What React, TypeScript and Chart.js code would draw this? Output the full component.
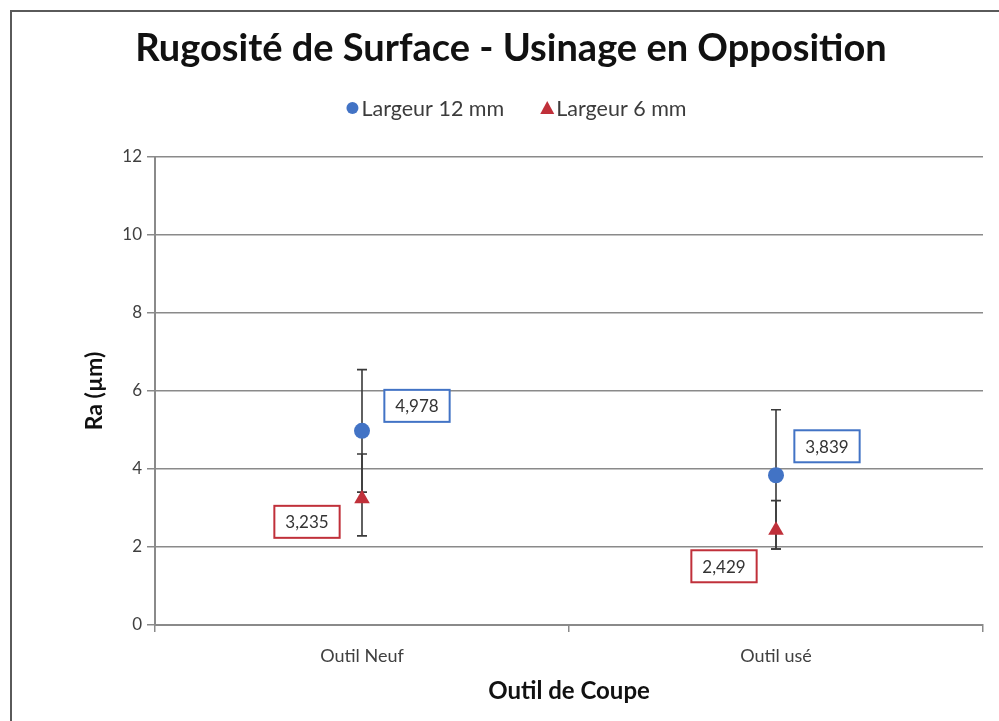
import React, { useEffect, useRef } from "react";
import { Chart, registerables } from "chart.js";

Chart.register(...registerables);

const TITLE = "Rugosité de Surface - Usinage en Opposition";
const CATEGORIES = ["Outil Neuf", "Outil usé"];
const SERIES_NAMES = ["Largeur 12 mm", "Largeur 6 mm"];
const RA_12MM = [4.978, 3.839];
const RA_6MM = [3.235, 2.429];
const ERR_12MM_PLUS = [1.57, 1.68];
const ERR_12MM_MINUS = [1.57, 1.89];
const ERR_6MM_PLUS = [1.15, 0.76];
const ERR_6MM_MINUS = [0.95, 0.48];
const Y_MIN = 0;
const Y_MAX = 12;
const Y_STEP = 2;
const Y_TITLE = "Ra (µm)";
const X_TITLE = "Outil de Coupe";

const BLUE = "#4273c5";
const RED = "#c0303a";
const FONT = "Lato, 'Open Sans', sans-serif";

// label box offsets (style), per dataset per point
const LABEL_OFFSETS = [
  [
    [55, -25],
    [51, -29],
  ],
  [
    [-55, 23],
    [-52, 36],
  ],
];

const errorBarPlugin = {
  id: "errorBars",
  beforeDatasetsDraw(chart: any) {
    const ctx = chart.ctx;
    const y = chart.scales.y;
    chart.data.datasets.forEach((ds: any, di: number) => {
      const meta = chart.getDatasetMeta(di);
      meta.data.forEach((el: any, i: number) => {
        const v = ds.data[i];
        const top = y.getPixelForValue(v + ds.errPlus[i]);
        const bot = y.getPixelForValue(v - ds.errMinus[i]);
        ctx.save();
        ctx.strokeStyle = "#3a3a3a";
        ctx.lineWidth = 1.6;
        ctx.beginPath();
        ctx.moveTo(el.x, top);
        ctx.lineTo(el.x, bot);
        ctx.moveTo(el.x - 5, top);
        ctx.lineTo(el.x + 5, top);
        ctx.moveTo(el.x - 5, bot);
        ctx.lineTo(el.x + 5, bot);
        ctx.stroke();
        ctx.restore();
      });
    });
  },
};

const decorPlugin = {
  id: "decor",
  beforeDraw(chart: any) {
    const ctx = chart.ctx;
    ctx.save();
    ctx.fillStyle = "#ffffff";
    ctx.fillRect(0, 0, chart.width, chart.height);
    ctx.strokeStyle = "#5a5a5a";
    ctx.lineWidth = 2;
    ctx.strokeRect(11, 11, chart.width + 20, chart.height + 20);
    ctx.restore();
  },
  afterDraw(chart: any) {
    const ctx = chart.ctx;
    ctx.save();
    // title
    ctx.fillStyle = "#111111";
    ctx.font = `bold 38px ${FONT}`;
    ctx.textAlign = "center";
    ctx.textBaseline = "middle";
    ctx.fillText(TITLE, 511, 49);
    // legend
    ctx.font = `21.5px ${FONT}`;
    ctx.textAlign = "left";
    const gap = 38;
    const markerW = 14;
    const items = chart.data.datasets.map((ds: any) => ({
      label: ds.label,
      color: ds.backgroundColor,
      style: ds.pointStyle,
      w: markerW + ctx.measureText(ds.label).width,
    }));
    const total = items.reduce((s: number, it: any) => s + it.w, 0) + gap * (items.length - 1);
    let x = 517 - total / 2;
    const ly = 108;
    items.forEach((it: any) => {
      ctx.fillStyle = it.color;
      ctx.beginPath();
      if (it.style === "triangle") {
        ctx.moveTo(x + 5, ly - 7);
        ctx.lineTo(x + 12, ly + 6);
        ctx.lineTo(x - 2, ly + 6);
        ctx.closePath();
      } else {
        ctx.arc(x + 5, ly, 6, 0, Math.PI * 2);
      }
      ctx.fill();
      ctx.fillStyle = "#3c3c3c";
      ctx.fillText(it.label, x + markerW, ly + 1);
      x += it.w + gap;
    });
    // data labels
    ctx.font = `17px ${FONT}`;
    ctx.textAlign = "center";
    chart.data.datasets.forEach((ds: any, di: number) => {
      const meta = chart.getDatasetMeta(di);
      meta.data.forEach((el: any, i: number) => {
        const txt = ds.data[i].toFixed(3).replace(".", ",");
        const [dx, dy] = LABEL_OFFSETS[di][i];
        const cx = el.x + dx;
        const cy = el.y + dy;
        const w = ctx.measureText(txt).width + 22;
        const h = 32;
        ctx.fillStyle = "#ffffff";
        ctx.fillRect(cx - w / 2, cy - h / 2, w, h);
        ctx.strokeStyle = ds.backgroundColor;
        ctx.lineWidth = 2;
        ctx.strokeRect(cx - w / 2, cy - h / 2, w, h);
        ctx.fillStyle = "#333333";
        ctx.fillText(txt, cx, cy + 1);
      });
    });
    ctx.restore();
  },
};

export default function App() {
  const ref = useRef<HTMLCanvasElement | null>(null);
  useEffect(() => {
    document.body.style.margin = "0";
    const canvas = ref.current!;
    const chart = new Chart(canvas, {
      type: "line",
      data: {
        labels: CATEGORIES,
        datasets: [
          {
            label: SERIES_NAMES[0],
            data: RA_12MM,
            errPlus: ERR_12MM_PLUS,
            errMinus: ERR_12MM_MINUS,
            showLine: false,
            pointStyle: "circle",
            pointRadius: 8,
            backgroundColor: BLUE,
            borderColor: BLUE,
            borderWidth: 0,
            order: 1,
          } as any,
          {
            label: SERIES_NAMES[1],
            data: RA_6MM,
            errPlus: ERR_6MM_PLUS,
            errMinus: ERR_6MM_MINUS,
            showLine: false,
            pointStyle: "triangle",
            pointRadius: 9,
            backgroundColor: RED,
            borderColor: RED,
            borderWidth: 0,
            order: 0,
          } as any,
        ],
      },
      options: {
        animation: false,
        responsive: false,
        events: [],
        layout: { padding: { left: 12, right: 16, top: 157, bottom: 9 } },
        plugins: {
          legend: { display: false },
          title: { display: false },
          tooltip: { enabled: false },
        },
        scales: {
          x: {
            offset: true,
            grid: {
              offset: true,
              drawOnChartArea: false,
              drawTicks: true,
              tickLength: 7,
              color: "#8a8a8a",
              lineWidth: 1.5,
            },
            border: { color: "#8a8a8a", width: 2 },
            ticks: {
              color: "#404040",
              font: { family: FONT, size: 18 },
              padding: 13,
            },
            title: {
              display: true,
              text: X_TITLE,
              color: "#111111",
              font: { family: FONT, size: 24, weight: "bold" },
              padding: { top: 0, bottom: 6 },
            },
            afterFit: (s: any) => {
              s.height = 87;
            },
          },
          y: {
            min: Y_MIN,
            max: Y_MAX,
            grid: {
              color: "#8a8a8a",
              lineWidth: 1.5,
              tickLength: 8,
            },
            border: { color: "#8a8a8a", width: 2 },
            ticks: {
              stepSize: Y_STEP,
              color: "#404040",
              font: { family: FONT, size: 17 },
              padding: 5,
            },
            title: {
              display: true,
              text: Y_TITLE,
              color: "#111111",
              font: { family: FONT, size: 23, weight: "bold" },
              padding: { top: 69, bottom: 0 },
            },
            afterFit: (s: any) => {
              s.width = 143;
            },
          },
        },
      },
      plugins: [decorPlugin, errorBarPlugin],
    } as any);
    return () => chart.destroy();
  }, []);
  return (
    <div style={{ width: 999, height: 721 }}>
      <canvas ref={ref} width={999} height={721} style={{ display: "block" }} />
    </div>
  );
}
